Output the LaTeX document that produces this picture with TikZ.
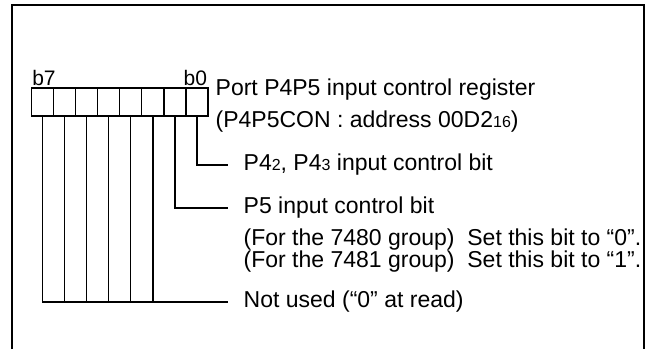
\documentclass[tikz,border=0pt]{standalone}
\usepackage{fontspec}
\setmainfont{Liberation Sans}
\usetikzlibrary{positioning}
\newcommand{\lowidx}[1]{{\fontsize{16}{16}\selectfont #1}}
\tikzset{
  cell/.style={draw, line width=1.4pt, minimum width=22.1pt, minimum height=28pt, inner sep=0pt},
  lbl/.style={anchor=west, inner xsep=15pt, inner ysep=0pt},
  bitnum/.style={inner sep=1pt, font=\fontsize{21}{21}\selectfont}
}
\begin{document}
\begin{tikzpicture}[x=1pt, y=-1pt, font=\fontsize{23}{22}\selectfont, line width=1.4pt, line join=miter]
\useasboundingbox (0,0) rectangle (648,349);
% frame, open at the bottom
\draw[line width=2.6pt] (12,349) -- (12,5) -- (644,5) -- (644,349);
% register cells b0..b7
\foreach \i in {0,...,7}
  \node[cell] (b\i) at ({197-22.1*\i},102) {};
\node[bitnum, anchor=south west] (n7) at (b7.north west) {b7};
\node[bitnum, anchor=south east] (n0) at (b0.north east) {b0};
\node[anchor=west, inner sep=0pt] (reg) at (215,90) {Port P4P5 input control register};
\node[anchor=west, inner sep=0pt] (adr) at (215,122) {(P4P5CON : address 00D2\lowidx{16})};
% bit descriptions
\node[lbl] (p4) at (228,165) {P4\lowidx{2}, P4\lowidx{3} input control bit};
\node[lbl] (p5) at (228,208) {P5 input control bit};
\node[anchor=west, inner sep=0pt] (g80) at (243,240) {(For the 7480 group)\ \ Set this bit to “0”.};
\node[anchor=west, inner sep=0pt] (g81) at (243,262) {(For the 7481 group)\ \ Set this bit to “1”.};
\node[lbl] (nu) at (228,302) {Not used (“0” at read)};
% connectors
\draw (b0.south) |- (p4.west);
\draw (b1.south) |- (p5.west);
\draw (b7.south) |- (nu.west);
\foreach \i in {2,...,6}
  \draw (b\i.south) -- (b\i.south |- nu.west);
\end{tikzpicture}
\end{document}
